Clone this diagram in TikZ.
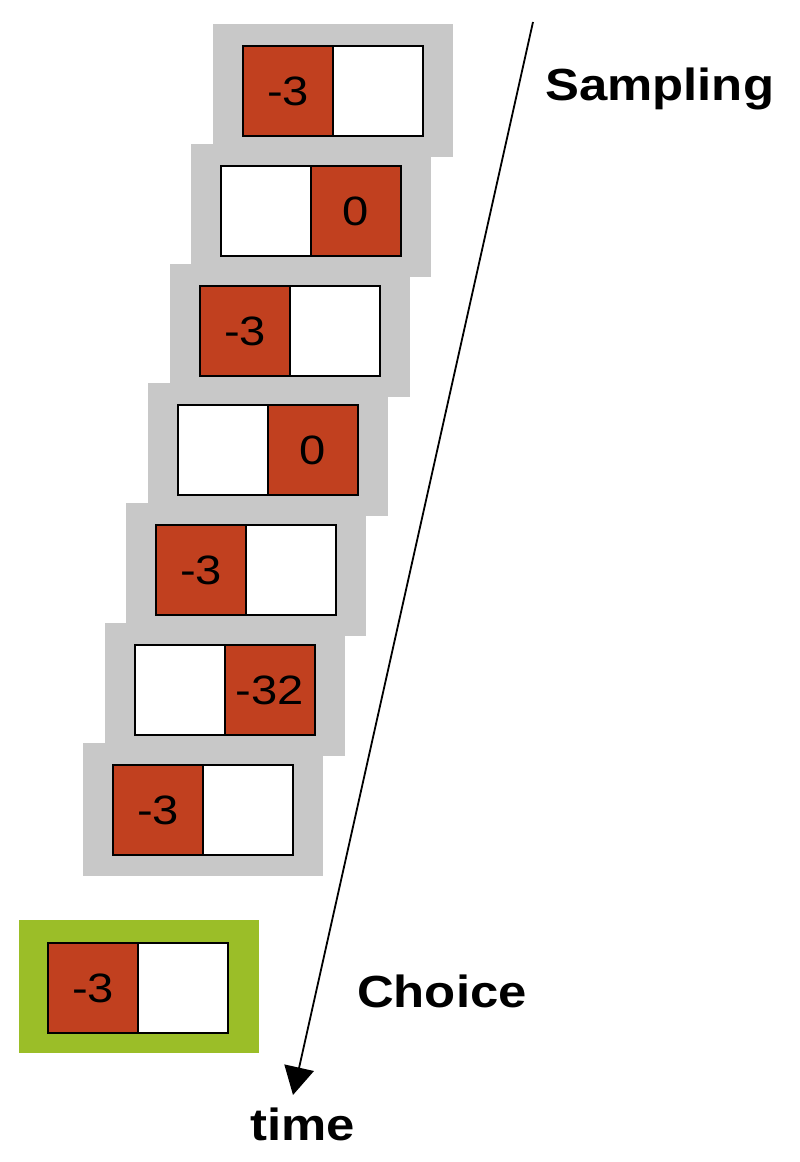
\documentclass[tikz,border=0pt]{standalone}
\usepackage{fontspec}
\setmainfont{Liberation Sans}
\newfontfamily\numfont[FakeStretch=1.15]{Liberation Sans}
\newfontfamily\labelfont[FakeStretch=1.13]{Liberation Sans}
\usetikzlibrary{arrows.meta}
\definecolor{hitred}{RGB}{193,64,31}
\definecolor{framegray}{RGB}{200,200,200}
\definecolor{choicegreen}{RGB}{155,190,40}
\tikzstyle{cell}=[draw, fill=white, line width=2.8pt, inner sep=0, outer sep=0, minimum size=90pt,
                  font=\numfont\fontsize{41}{41}\selectfont]
\tikzstyle{hit}=[cell, fill=hitred]
\tikzstyle{frame}=[fill=framegray, inner sep=0, minimum width=240pt, minimum height=133pt]
\tikzstyle{choiceframe}=[frame, fill=choicegreen]
\tikzstyle{tag}=[inner sep=0, anchor=base west, font=\labelfont\bfseries\fontsize{45}{45}\selectfont]
\tikzstyle{timeline}=[line width=1.8pt, -{Triangle[length=28pt, width=30pt]}]
\begin{document}
\begin{tikzpicture}[x=1pt, y=-1pt]
        \useasboundingbox (0, 0) rectangle (800, 1162);
        % grey frames of the sampling screens
        \node[frame] (F1) at (333, 90.5) {};
        \node[frame] (F2) at (311, 210.5) {};
        \node[frame] (F3) at (290, 330.5) {};
        \node[frame] (F4) at (268, 449.5) {};
        \node[frame] (F5) at (246, 569.5) {};
        \node[frame] (F6) at (225, 689.5) {};
        \node[frame] (F7) at (203, 809.5) {};
        \node[choiceframe] (C) at (139, 986) {};
        % the two options on each screen
        \node[hit] (F1l) at (288, 91) {-3};
        \node[cell] (F1r) at (378, 91) {};
        \node[cell] (F2l) at (266, 211) {};
        \node[hit] (F2r) at (356, 211) {0};
        \node[hit] (F3l) at (245, 331) {-3};
        \node[cell] (F3r) at (335, 331) {};
        \node[cell] (F4l) at (223, 450) {};
        \node[hit] (F4r) at (313, 450) {0};
        \node[hit] (F5l) at (201, 570) {-3};
        \node[cell] (F5r) at (291, 570) {};
        \node[cell] (F6l) at (180, 690) {};
        \node[hit] (F6r) at (270, 690) {-32};
        \node[hit] (F7l) at (158, 810) {-3};
        \node[cell] (F7r) at (248, 810) {};
        \node[hit] (Cl) at (93, 988) {-3};
        \node[cell] (Cr) at (183, 988) {};
        % time axis
        \coordinate (start) at (533, 22);
        \coordinate (tip) at (293, 1095);
        \draw[timeline] (start) -- (tip);
        \node[tag] (sampling) at (545, 100) {Sampling};
        \node[tag] (choice) at (357, 1007) {Choice};
        \node[tag] (time) at (250, 1140) {time};
    \end{tikzpicture}
\end{document}
